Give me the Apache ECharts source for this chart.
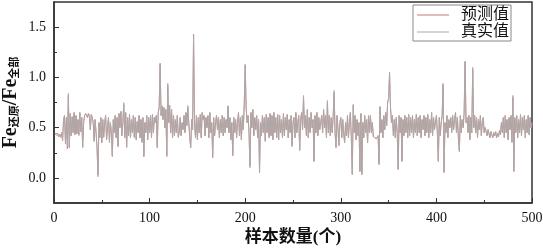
<!DOCTYPE html>
<html>
<head>
<meta charset="UTF-8">
<title>预测值与真实值</title>
<script src="https://cdn.jsdelivr.net/npm/echarts@6/dist/echarts.min.js"></script>
<style>
html, body { margin: 0; padding: 0; background: #fff; }
</style>
</head>
<body>
<div id="main" style="width: 543px;height:249px;"></div>
<script type="text/javascript">
// 真实值 (sample 1..500)
var trueVals = [
0.44,0.43,0.42,0.44,0.41,0.43,0.40,0.45,0.38,0.58,
0.62,0.35,0.60,0.31,0.84,0.31,0.64,0.42,0.60,0.45,
0.65,0.43,0.62,0.44,0.58,0.42,0.65,0.46,0.60,0.30,
0.55,0.62,0.64,0.63,0.60,0.64,0.62,0.48,0.63,0.60,
0.55,0.36,0.58,0.45,0.30,0.01,0.55,0.40,0.60,0.35,
0.58,0.40,0.55,0.62,0.38,0.50,0.60,0.35,0.55,0.45,
0.21,0.58,0.45,0.62,0.40,0.60,0.33,0.64,0.50,0.66,
0.42,0.55,0.75,0.40,0.65,0.30,0.60,0.42,0.63,0.40,
0.58,0.45,0.62,0.40,0.60,0.38,0.56,0.45,0.62,0.40,
0.58,0.35,0.60,0.23,0.55,0.45,0.62,0.38,0.60,0.45,
0.62,0.40,0.63,0.45,0.60,0.55,0.62,0.31,0.65,0.70,
1.13,0.62,0.72,0.58,0.70,0.50,0.68,0.21,0.94,0.55,
0.72,0.45,0.68,0.40,0.62,0.42,0.58,0.45,0.62,0.40,
0.45,0.60,0.42,0.55,0.48,0.62,0.45,0.65,0.52,0.72,
0.55,0.40,0.31,0.58,0.48,1.42,0.55,0.40,0.62,0.38,
0.60,0.45,0.63,0.40,0.65,0.58,0.62,0.42,0.60,0.50,
0.62,0.40,0.65,0.45,0.55,0.21,0.60,0.42,0.55,0.62,
0.48,0.60,0.40,0.58,0.45,0.62,0.42,0.60,0.45,0.58,
0.50,0.72,0.45,0.60,0.38,0.55,0.23,0.60,0.45,0.58,
0.40,0.55,0.65,0.42,0.60,0.38,0.62,0.48,0.75,1.13,
0.70,0.55,0.62,0.45,0.10,0.65,0.50,0.68,0.42,0.60,
0.48,0.62,0.40,0.58,0.05,0.55,0.42,0.62,0.45,0.60,
0.36,0.63,0.45,0.60,0.40,0.64,0.42,0.62,0.38,0.65,
0.45,0.60,0.40,0.63,0.38,0.62,0.45,0.58,0.40,0.64,
0.42,0.60,0.48,0.63,0.40,0.58,0.45,0.62,0.31,0.55,
0.60,0.40,0.65,0.45,0.55,0.62,0.27,0.58,0.65,0.48,
0.82,0.50,0.62,0.42,0.68,0.40,0.60,0.45,0.65,0.50,
0.58,0.16,0.62,0.45,0.65,0.42,0.60,0.48,0.55,0.62,
0.45,0.68,0.50,0.62,0.40,0.77,0.45,0.62,0.42,0.60,
0.45,0.60,0.87,0.45,0.31,0.62,0.50,0.33,0.55,0.60,
0.40,0.58,0.45,0.35,0.55,0.42,0.62,0.40,0.55,0.65,
0.40,0.03,0.72,0.45,0.62,0.38,0.58,0.42,0.55,0.06,
0.64,0.03,0.55,0.40,0.62,0.45,0.58,0.35,0.62,0.45,
0.62,0.45,0.55,0.41,0.40,0.41,0.39,0.40,0.42,0.13,
0.70,0.45,0.58,0.40,0.62,0.48,0.65,0.52,0.75,0.80,
1.04,0.70,0.55,0.62,0.42,0.58,0.40,0.60,0.45,0.08,
0.62,0.45,0.60,0.16,0.58,0.42,0.62,0.45,0.60,0.40,
0.63,0.42,0.60,0.45,0.62,0.40,0.58,0.45,0.63,0.42,
0.60,0.45,0.62,0.40,0.58,0.48,0.62,0.42,0.60,0.45,
0.63,0.40,0.58,0.45,0.65,0.42,0.60,0.48,0.55,0.62,
0.45,0.16,0.60,0.42,0.55,0.62,0.94,0.05,0.55,0.45,
0.62,0.40,0.58,0.50,0.60,0.45,0.62,0.48,0.58,0.65,
0.45,0.60,0.40,0.26,0.62,0.45,0.58,0.50,0.65,1.15,
0.55,0.60,0.45,0.62,0.38,0.60,0.45,1.10,0.50,0.62,
0.45,0.60,0.40,0.58,0.48,0.62,0.42,0.55,0.60,0.45,
0.50,0.46,0.42,0.48,0.44,0.40,0.46,0.43,0.40,0.45,
0.42,0.46,0.40,0.44,0.41,0.47,0.43,0.55,0.45,0.60,
0.40,0.62,0.45,0.58,0.38,0.60,0.48,0.62,0.35,0.82,
0.06,0.60,0.45,0.62,0.40,0.58,0.45,0.63,0.42,0.60,
0.48,0.62,0.40,0.58,0.45,0.62,0.43,0.60,0.50,0.55
];
// 预测值
var predVals = [
0.44,0.43,0.43,0.44,0.41,0.43,0.41,0.45,0.37,0.58,
0.62,0.34,0.60,0.29,0.82,0.30,0.64,0.42,0.61,0.45,
0.65,0.43,0.62,0.44,0.58,0.43,0.65,0.46,0.60,0.31,
0.55,0.62,0.64,0.63,0.60,0.64,0.62,0.48,0.63,0.60,
0.55,0.37,0.58,0.45,0.31,0.03,0.55,0.40,0.60,0.35,
0.58,0.41,0.55,0.62,0.38,0.50,0.60,0.36,0.55,0.45,
0.22,0.58,0.45,0.62,0.40,0.60,0.31,0.64,0.50,0.66,
0.42,0.55,0.73,0.40,0.65,0.31,0.60,0.42,0.63,0.40,
0.58,0.45,0.62,0.41,0.60,0.38,0.56,0.45,0.62,0.40,
0.58,0.36,0.60,0.21,0.55,0.45,0.62,0.38,0.60,0.45,
0.62,0.40,0.63,0.45,0.60,0.55,0.62,0.30,0.65,0.70,
1.14,0.62,0.71,0.58,0.70,0.50,0.68,0.22,0.92,0.55,
0.72,0.45,0.68,0.40,0.62,0.42,0.58,0.45,0.62,0.41,
0.45,0.60,0.42,0.55,0.48,0.62,0.45,0.65,0.52,0.70,
0.55,0.40,0.30,0.58,0.48,1.43,0.55,0.40,0.62,0.38,
0.60,0.45,0.63,0.40,0.65,0.58,0.62,0.42,0.60,0.50,
0.62,0.40,0.65,0.45,0.55,0.20,0.60,0.42,0.55,0.62,
0.48,0.60,0.40,0.58,0.45,0.62,0.42,0.60,0.45,0.58,
0.50,0.71,0.45,0.60,0.38,0.55,0.22,0.60,0.45,0.58,
0.40,0.55,0.65,0.42,0.60,0.38,0.62,0.48,0.72,1.12,
0.70,0.55,0.62,0.45,0.12,0.65,0.50,0.68,0.42,0.60,
0.48,0.62,0.40,0.58,0.06,0.55,0.42,0.62,0.45,0.60,
0.37,0.63,0.45,0.60,0.40,0.64,0.42,0.62,0.38,0.65,
0.45,0.60,0.40,0.63,0.38,0.62,0.45,0.58,0.40,0.64,
0.42,0.60,0.48,0.63,0.40,0.58,0.45,0.62,0.32,0.55,
0.60,0.40,0.65,0.45,0.55,0.62,0.28,0.58,0.65,0.48,
0.80,0.50,0.62,0.42,0.68,0.40,0.60,0.45,0.65,0.50,
0.58,0.17,0.62,0.45,0.65,0.42,0.60,0.48,0.55,0.62,
0.45,0.68,0.50,0.62,0.40,0.75,0.45,0.62,0.42,0.60,
0.45,0.60,0.85,0.45,0.30,0.62,0.50,0.32,0.55,0.60,
0.40,0.58,0.45,0.35,0.55,0.42,0.62,0.40,0.55,0.65,
0.40,0.04,0.73,0.45,0.62,0.38,0.58,0.42,0.55,0.07,
0.64,0.04,0.55,0.40,0.62,0.45,0.58,0.35,0.62,0.45,
0.62,0.45,0.55,0.41,0.40,0.41,0.39,0.40,0.42,0.14,
0.71,0.45,0.58,0.40,0.62,0.48,0.65,0.52,0.76,0.78,
1.05,0.70,0.55,0.62,0.42,0.58,0.40,0.60,0.45,0.09,
0.62,0.45,0.60,0.17,0.58,0.42,0.62,0.45,0.60,0.40,
0.63,0.42,0.60,0.45,0.62,0.40,0.58,0.45,0.63,0.42,
0.60,0.45,0.62,0.40,0.58,0.48,0.62,0.42,0.60,0.45,
0.63,0.40,0.58,0.45,0.65,0.42,0.60,0.48,0.55,0.62,
0.45,0.17,0.60,0.42,0.55,0.62,0.93,0.06,0.55,0.45,
0.62,0.40,0.58,0.50,0.60,0.45,0.62,0.48,0.58,0.65,
0.45,0.60,0.40,0.27,0.62,0.45,0.58,0.50,0.64,1.16,
0.55,0.60,0.45,0.62,0.38,0.60,0.45,1.08,0.50,0.62,
0.45,0.60,0.40,0.58,0.48,0.62,0.42,0.55,0.60,0.45,
0.50,0.46,0.42,0.48,0.44,0.40,0.46,0.43,0.40,0.45,
0.42,0.46,0.40,0.44,0.41,0.47,0.43,0.55,0.45,0.60,
0.40,0.62,0.45,0.58,0.38,0.60,0.48,0.62,0.36,0.80,
0.07,0.60,0.45,0.62,0.40,0.58,0.45,0.63,0.42,0.60,
0.48,0.62,0.40,0.58,0.45,0.62,0.43,0.60,0.50,0.55
];
var seriesNames = ['预测值', '真实值'];
var yLabelTicks = [0, 0.5, 1.0, 1.5];
var yMinorTicks = [0.25, 0.75, 1.25];
var xName = '样本数量(个)';

var serif = '"Liberation Serif", "Times New Roman", "Noto Sans CJK SC", serif';

function toPoints(arr) {
    var out = [];
    for (var i = 0; i < arr.length; i++) {
        out.push([i + 1, arr[i]]);
    }
    return out;
}

var myChart = echarts.init(document.getElementById('main'));
var option = {
    animation: false,
    backgroundColor: '#fff',
    grid: {
        left: 54, right: 11, top: 2, bottom: 46,
        outerBoundsMode: 'none',
        containLabel: false,
        show: true, borderColor: '#333', borderWidth: 1.5
    },
    legend: {
        data: seriesNames,
        orient: 'vertical',
        right: 32, top: 5,
        itemGap: 1,
        icon: 'rect',
        itemWidth: 32, itemHeight: 1,
        padding: [2, 2, 1, 4],
        borderColor: '#888', borderWidth: 1,
        textStyle: { fontFamily: serif, fontSize: 16, color: '#111', padding: [0, 0, 0, 7] }
    },
    xAxis: {
        type: 'value', min: 0, max: 500, interval: 100,
        name: xName, nameLocation: 'middle', nameGap: 26,
        nameMoveOverlap: false,
        nameTextStyle: { fontFamily: serif, fontSize: 17, fontWeight: 'bold', color: '#111' },
        axisLine: { show: true, onZero: false, lineStyle: { color: '#333', width: 1.5 } },
        axisTick: { show: true, inside: true, length: 5, lineStyle: { color: '#333' } },
        minorTick: { show: true, splitNumber: 2, length: 3, lineStyle: { color: '#333' } },
        axisLabel: { fontFamily: serif, fontSize: 14, color: '#111', margin: 8 },
        splitLine: { show: false }
    },
    yAxis: [{
        type: 'value', min: -0.25, max: 1.75,
        name: '{a|Fe}{b|还原}{a|/Fe}{b|全部}',
        nameLocation: 'middle', nameGap: 33,
        nameMoveOverlap: false,
        nameTextStyle: {
            rich: {
                a: { fontFamily: serif, fontSize: 20, fontWeight: 'bold', color: '#111' },
                b: { fontFamily: serif, fontSize: 11, fontWeight: 'bold', color: '#111', padding: [9, 0, 0, 0] }
            }
        },
        axisLine: { show: true, onZero: false, lineStyle: { color: '#333', width: 1.5 } },
        axisTick: { show: true, inside: true, length: 5, customValues: yLabelTicks, lineStyle: { color: '#333' } },
        axisLabel: {
            fontFamily: serif, fontSize: 14, color: '#111', margin: 8,
            customValues: yLabelTicks,
            formatter: function (v) { return v.toFixed(1); }
        },
        splitLine: { show: false }
    }, {
        type: 'value', min: -0.25, max: 1.75, position: 'left', offset: 0,
        axisLine: { show: false, onZero: false },
        axisTick: { show: true, inside: true, length: 3, customValues: yMinorTicks, lineStyle: { color: '#333' } },
        axisLabel: { show: false, customValues: yMinorTicks },
        splitLine: { show: false }
    }],
    series: [
        {
            name: seriesNames[0], type: 'line', symbol: 'none',
            lineStyle: { color: '#c87878', width: 0.9 },
            itemStyle: { color: '#c87878' },
            data: toPoints(predVals)
        },
        {
            name: seriesNames[1], type: 'line', symbol: 'none',
            lineStyle: { color: '#aaaaaa', width: 0.9 },
            itemStyle: { color: '#aaaaaa' },
            data: toPoints(trueVals)
        }
    ]
};
myChart.setOption(option);
</script>
</body>
</html>
